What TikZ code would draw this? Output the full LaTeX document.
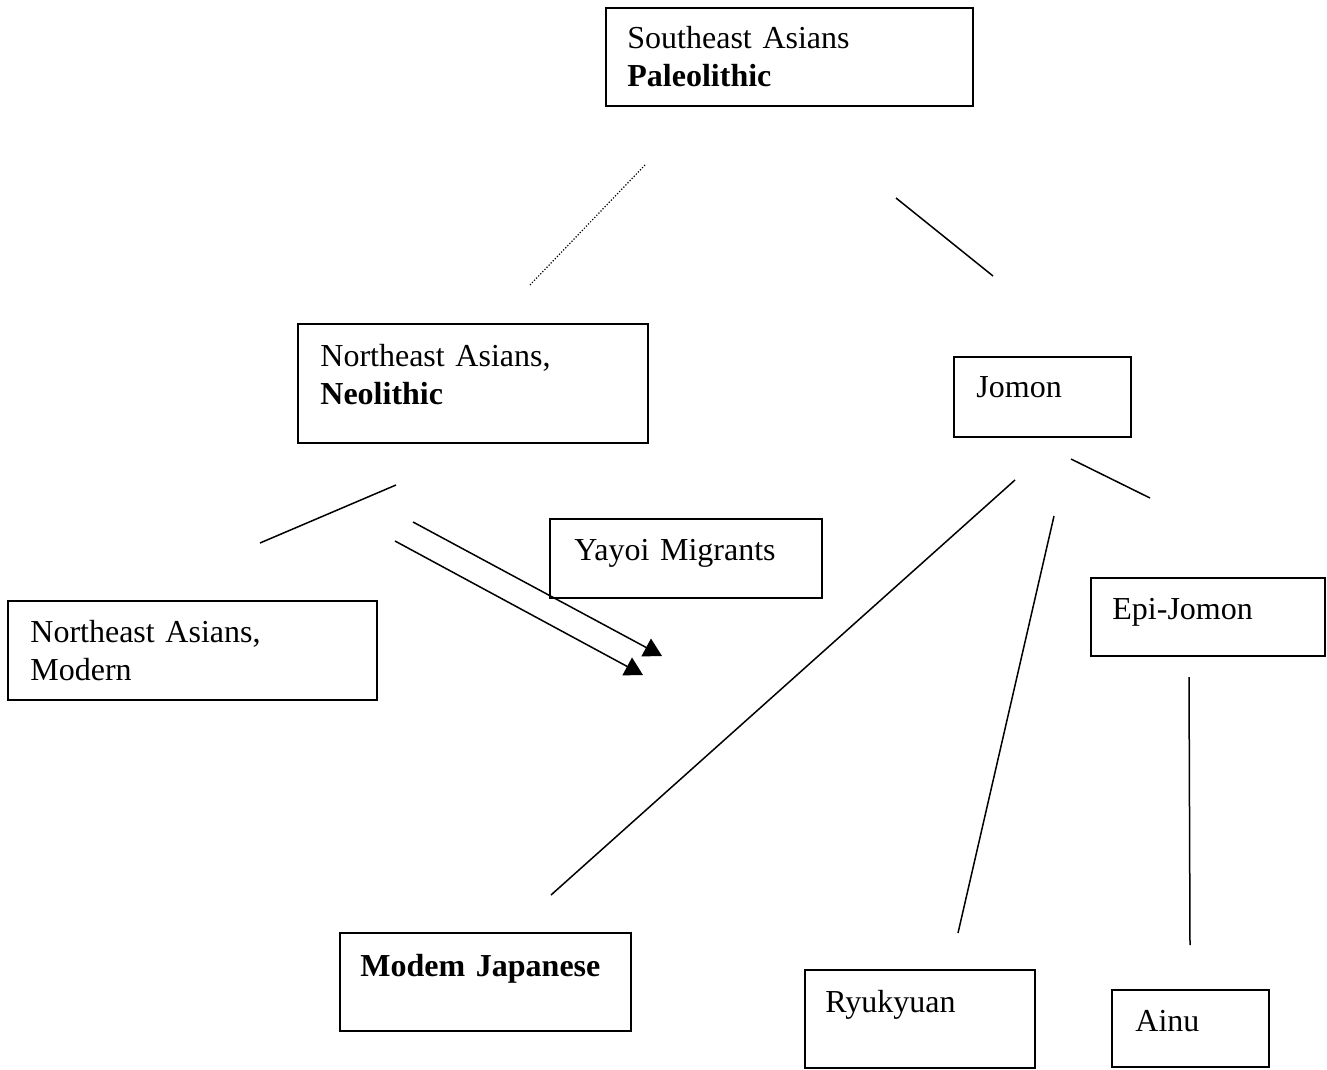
\documentclass[tikz,border=0pt]{standalone}
\usepackage{fontspec}
\setmainfont{Liberation Serif}
\usetikzlibrary{arrows.meta}

\tikzset{
  box/.style={draw, line width=1pt, anchor=north west, inner sep=0pt, outer sep=0pt},
  txt/.style={anchor=base west, inner sep=0pt, text width=170pt, align=left,
    font=\fontsize{16}{19}\selectfont},
  link/.style={line width=0.75pt},
  migr/.style={line width=0.75pt, -{Triangle[length=9pt,width=10pt]}}
}

\begin{document}
\begin{tikzpicture}[x=0.5pt,y=-0.5pt]
    \useasboundingbox (0,0) rectangle (1327,1070);
    % caixes
    \node[box, minimum width=183.5pt, minimum height=49pt] (se) at (606,8) {};
    \node[box, minimum width=175pt, minimum height=59.5pt] (neneo) at (298,324) {};
    \node[box, minimum width=88.5pt, minimum height=40pt] (jomon) at (954,357) {};
    \node[box, minimum width=136pt, minimum height=39.5pt] (yayoi) at (550,519) {};
    \node[box, minimum width=184.5pt, minimum height=49.5pt] (nemod) at (8,601) {};
    \node[box, minimum width=117pt, minimum height=39pt] (epi) at (1091,578) {};
    \node[box, minimum width=145.5pt, minimum height=49pt] (modjap) at (340,933) {};
    \node[box, minimum width=115pt, minimum height=49pt] (ryu) at (805,970) {};
    \node[box, minimum width=78.5pt, minimum height=38.5pt] (ainu) at (1112,990) {};
    % textos
    \node[txt] (se-t) at ([shift={(21,41)}]se.north west) {Southeast Asians\\\textbf{Paleolithic}};
    \node[txt] (neneo-t) at ([shift={(22,42)}]neneo.north west) {Northeast Asians,\\\textbf{Neolithic}};
    \node[txt] (jomon-t) at ([shift={(22,40)}]jomon.north west) {Jomon};
    \node[txt] (yayoi-t) at ([shift={(24,41)}]yayoi.north west) {Yayoi Migrants};
    \node[txt] (nemod-t) at ([shift={(22,41)}]nemod.north west) {Northeast Asians,\\Modern};
    \node[txt] (epi-t) at ([shift={(21,41)}]epi.north west) {Epi-Jomon};
    \node[txt] (modjap-t) at ([shift={(20,43)}]modjap.north west) {\textbf{Modem Japanese}};
    \node[txt] (ryu-t) at ([shift={(20,42)}]ryu.north west) {Ryukyuan};
    \node[txt] (ainu-t) at ([shift={(23,41)}]ainu.north west) {Ainu};
    % extrems de les linies
    \coordinate (se-a) at (645,165);  \coordinate (neneo-a) at (530,285);
    \coordinate (se-b) at (896,198);  \coordinate (jomon-a) at (993,276);
    \coordinate (neneo-b) at (396,485); \coordinate (nemod-a) at (260,543);
    \coordinate (neneo-c) at (413,522); \coordinate (yay-1) at (662,656);
    \coordinate (neneo-d) at (395,541); \coordinate (yay-2) at (643,675);
    \coordinate (jomon-b) at (1015,480); \coordinate (modjap-a) at (551,895);
    \coordinate (jomon-c) at (1054,516); \coordinate (ryu-a) at (958,933);
    \coordinate (jomon-d) at (1071,459); \coordinate (epi-a) at (1150,498);
    \coordinate (epi-b) at (1189,677); \coordinate (ainu-a) at (1190,945);
    % linies
    \draw[link, line width=0.6pt, dash pattern=on 0.6pt off 0.9pt] (se-a) -- (neneo-a);
    \draw[link] (se-b) -- (jomon-a);
    \draw[link] (neneo-b) -- (nemod-a);
    \draw[migr] (neneo-c) -- (yay-1);
    \draw[migr] (neneo-d) -- (yay-2);
    \draw[link] (jomon-b) -- (modjap-a);
    \draw[link] (jomon-c) -- (ryu-a);
    \draw[link] (jomon-d) -- (epi-a);
    \draw[link] (epi-b) -- (ainu-a);
\end{tikzpicture}
\end{document}
